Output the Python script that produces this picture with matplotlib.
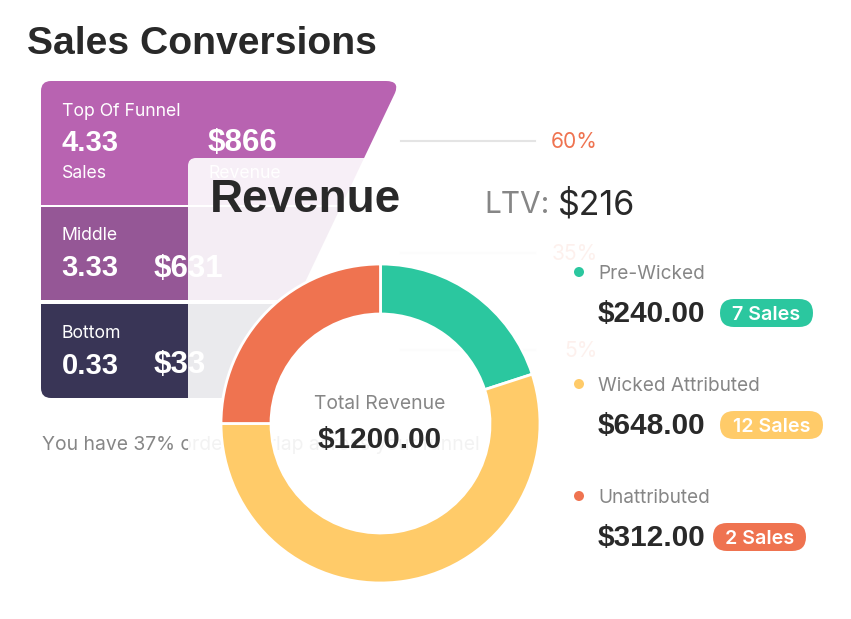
import matplotlib
matplotlib.use("Agg")
import matplotlib.pyplot as plt
from matplotlib.patches import PathPatch, Rectangle, FancyBboxPatch, Circle
from matplotlib.path import Path

plt.rcParams['font.family'] = ['Inter', 'DejaVu Sans']
HEAVY = dict(family=['Liberation Sans', 'DejaVu Sans'], fontweight="bold")

stages = ["Top Of Funnel", "Middle", "Bottom"]
sales = ["4.33", "3.33", "0.33"]
revenue = ["$866", "$631", "$33"]
shares = ["60%", "35%", "5%"]
channels = ["Pre-Wicked", "Wicked Attributed", "Unattributed"]
amounts = ["$240.00", "$648.00", "$312.00"]
sale_tags = ["7 Sales", "12 Sales", "2 Sales"]
slice_shares = [20, 55, 25]
colors = ["#2BC79F", "#FFCB69", "#EF7350"]
band_colors = ["#B863B1", "#955796", "#393556"]

DARK = "#292929"
GREY = "#868686"

fig = plt.figure(figsize=(8.51, 6.19), dpi=100, facecolor="white")
ax = fig.add_axes([0, 0, 1, 1])
ax.set_xlim(0, 851)
ax.set_ylim(619, 0)
ax.axis("off")

verts = [(41, 91), (41, 81), (51, 81), (386, 81), (400, 81), (395, 93), (250, 398),
         (51, 398), (41, 398), (41, 388), (41, 91)]
codes = [Path.MOVETO, Path.CURVE3, Path.CURVE3, Path.LINETO, Path.CURVE3, Path.CURVE3,
         Path.LINETO, Path.LINETO, Path.CURVE3, Path.CURVE3, Path.CLOSEPOLY]
outline = PathPatch(Path(verts, codes), fc="none", ec="none", transform=ax.transData)
ax.add_patch(outline)
bands = [(81, 123.5), (207, 93), (304, 94)]
for (top, h), c in zip(bands, band_colors):
    r = Rectangle((30, top), 400, h, fc=c, ec="none", zorder=1)
    ax.add_patch(r)
    r.set_clip_path(outline)

tx = 61.5
ty = [(111, 143, 173), (236, 268.5, None), (334, 365.5, None)]
rx = [208, 154, 154]
for i in range(3):
    a, b, c = ty[i]
    ax.text(tx, a, stages[i], color="white", fontsize=12.7, va="center", zorder=2)
    ax.text(tx, b, sales[i], color="white", fontsize=21, va="center", zorder=2, **HEAVY)
    ax.text(rx[i], b, revenue[i], color="white", fontsize=22.5, va="center", zorder=2, **HEAVY)
    if c:
        ax.text(tx, c, "Sales", color="white", fontsize=12.7, va="center", zorder=2)
        ax.text(rx[i], c, "Revenue", color="white", fontsize=12.7, va="center", zorder=2)

line_y = [141, 253, 350]
for y, s in zip(line_y, shares):
    ax.plot([401, 535], [y, y], color="#E4E4E4", lw=1.5, zorder=1)
    ax.text(598, y + 1, s, color="#EF7350", fontsize=15.1, ha="right", va="center", zorder=2)

ax.text(42, 445, "You have 37% order overlap across your funnel", color=GREY,
        fontsize=13.9, va="center", zorder=2)
ax.text(27, 43.5, "Sales Conversions", color=DARK, fontsize=28.2, va="center", zorder=2, **HEAVY)

panel = FancyBboxPatch((188, 158), 900, 600, boxstyle="round,pad=0,rounding_size=8",
                       fc="white", ec="none", alpha=0.9, zorder=3)
ax.add_patch(panel)

ax.text(210, 200, "Revenue", color=DARK, fontsize=33, va="center", zorder=4, **HEAVY)
ax.text(484, 205, "LTV:", color=GREY, fontsize=21.5, va="center", zorder=4)
ax.text(558, 205, "$216", color=DARK, fontsize=24.5, va="center", zorder=4)

ax.text(380, 404, "Total Revenue", color=GREY, fontsize=13.9, ha="center", va="center", zorder=4)
ax.text(380, 440, "$1200.00", color=DARK, fontsize=21.4, ha="center", va="center", zorder=4, **HEAVY)

leg_y = [272, 384, 496]
tag_x = [720, 720, 713]
tag_w = [93, 103, 93]
for i in range(3):
    y = leg_y[i]
    ax.add_patch(Circle((579, y), 5, fc=colors[i], ec="none", zorder=4))
    ax.text(598, y + 2, channels[i], color=GREY, fontsize=13.7, va="center", zorder=4)
    ax.text(598, y + 42, amounts[i], color=DARK, fontsize=21.4, va="center", zorder=4, **HEAVY)
    ax.add_patch(FancyBboxPatch((tag_x[i], y + 27), tag_w[i], 28,
                                boxstyle="round,pad=0,rounding_size=14",
                                fc=colors[i], ec="none", zorder=4))
    ax.text(tag_x[i] + tag_w[i] / 2, y + 43, sale_tags[i], color="white", fontsize=14.2,
            fontweight="semibold", ha="center", va="center", zorder=5)

R = 159.5
cx, cy = 380.5, 423.5
ad = fig.add_axes([(cx - R) / 851, (619 - cy - R) / 619, 2 * R / 851, 2 * R / 619])
ad.pie(slice_shares, colors=colors, startangle=90, counterclock=False, radius=1,
       wedgeprops=dict(width=50 / R, edgecolor="white", linewidth=2))
ad.set_xlim(-1, 1)
ad.set_ylim(-1, 1)
ad.set_aspect("equal")
ad.patch.set_alpha(0)

fig.savefig("out.png", dpi=100, facecolor="white")
